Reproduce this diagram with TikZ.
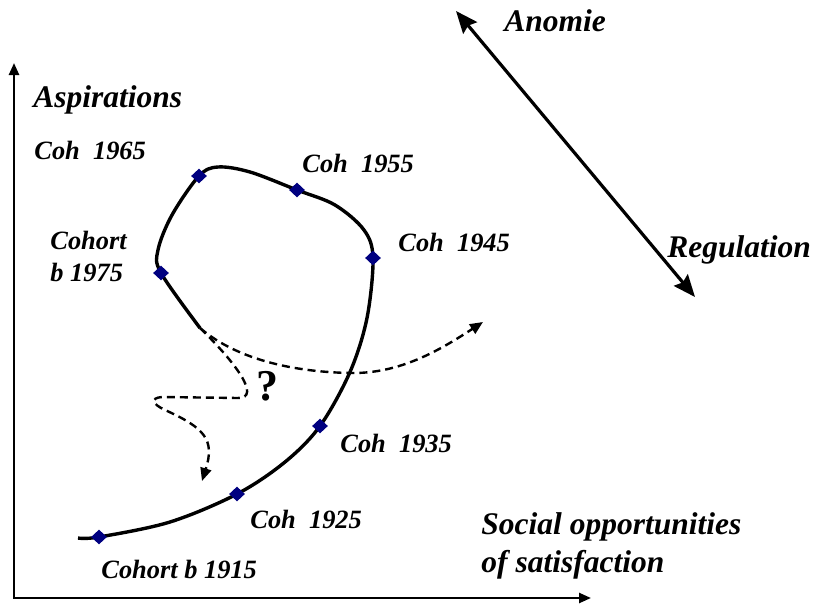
\documentclass[tikz,border=0pt]{standalone}
\usepackage{fontspec}
\setmainfont{Liberation Serif}
\usetikzlibrary{arrows.meta,shapes.geometric}
\definecolor{navy}{HTML}{000080}
\pgfdeclarelayer{bg}
\pgfsetlayers{bg,main}
\begin{document}
\begin{tikzpicture}[x=0.5pt,y=-0.5pt,
  big/.style={font=\fontsize{15.75}{19}\selectfont\bfseries\itshape, inner sep=0, anchor=base west, align=left},
  small/.style={font=\fontsize{13.2}{16}\selectfont\bfseries\itshape, inner sep=0, anchor=base west, align=left},
  pt/.style={diamond, fill=navy, inner sep=0, minimum width=8pt, minimum height=7.5pt},
  axis/.style={line width=1.2pt, {Triangle[length=6pt,width=5pt]}-{Triangle[length=6pt,width=5pt]}},
  curve/.style={line width=1.7pt},
  dashline/.style={line width=1.2pt, dash pattern=on 4pt off 2.5pt, -{Triangle[length=6.5pt,width=5.5pt]}},
  bigarrow/.style={line width=1.6pt, {Stealth[length=11pt,width=9pt,inset=1.5pt]}-{Stealth[length=11pt,width=9pt,inset=1.5pt]}}
]
\useasboundingbox (0,0) rectangle (815,605);

% axes
\coordinate (o) at (14,598);
\coordinate (ytip) at (14,63);
\coordinate (xtip) at (591,598);
\draw[axis] (ytip) -- (o) -- (xtip);

% anomie / regulation arrow
\coordinate (an) at (456,11);
\coordinate (rg) at (695,297);
\draw[bigarrow] (an) -- (rg);

% cohort points
\node[pt] (c1915) at (99,537) {};
\node[pt] (c1925) at (237,494) {};
\node[pt] (c1935) at (320,426) {};
\node[pt] (c1945) at (373,258) {};
\node[pt] (c1955) at (297,190) {};
\node[pt] (c1965) at (199,176) {};
\node[pt] (c1975) at (161,273) {};
\coordinate (start) at (78,538);
\coordinate (split) at (200,328);

\begin{pgfonlayer}{bg}
\draw[curve] plot[smooth, tension=0.55] coordinates {
  (start) (c1915.center) (170,522) (c1925.center) (285,462) (c1935.center)
  (350,372) (367,318) (c1945.center) (364,230) (335,205) (c1955.center)
  (250,172) (218,167) (c1965.center) (172,215) (158,250) (c1975.center) (split)};
\end{pgfonlayer}

% dashed futures
\coordinate (endA) at (483,322);
\coordinate (endB) at (202,481);
\draw[dashline] (split) .. controls (240,362) and (300,372) .. (350,373)
  .. controls (400,374) and (440,350) .. (endA);
\draw[dashline] (split) .. controls (235,362) and (262,398) .. (238,398)
  -- (162,397) .. controls (150,398) and (152,404) .. (165,410)
  .. controls (205,428) and (215,440) .. (endB);

\node[font=\fontsize{22}{22}\selectfont\bfseries, inner sep=0] (q) at (267,386) {?};

% labels
\node[big] (asp) at (33,107) {Aspirations};
\node[big] (anom) at (504,32) {Anomie};
\node[big] (reg) at (667,257) {Regulation};
\node[big] (soc) at (481,572) {Social opportunities\\of satisfaction};
\node[small] (l1965) at (34,159) {Coh\ \ 1965};
\node[small] (l1955) at (302,172) {Coh\ \ 1955};
\node[small] (l1945) at (398,251) {Coh\ \ 1945};
\node[small] (l1975) at (50,281) {Cohort\\b 1975};
\node[small] (l1935) at (340,452) {Coh\ \ 1935};
\node[small] (l1925) at (250,528) {Coh\ \ 1925};
\node[small] (l1915) at (101,578) {Cohort b 1915};
\end{tikzpicture}
\end{document}
